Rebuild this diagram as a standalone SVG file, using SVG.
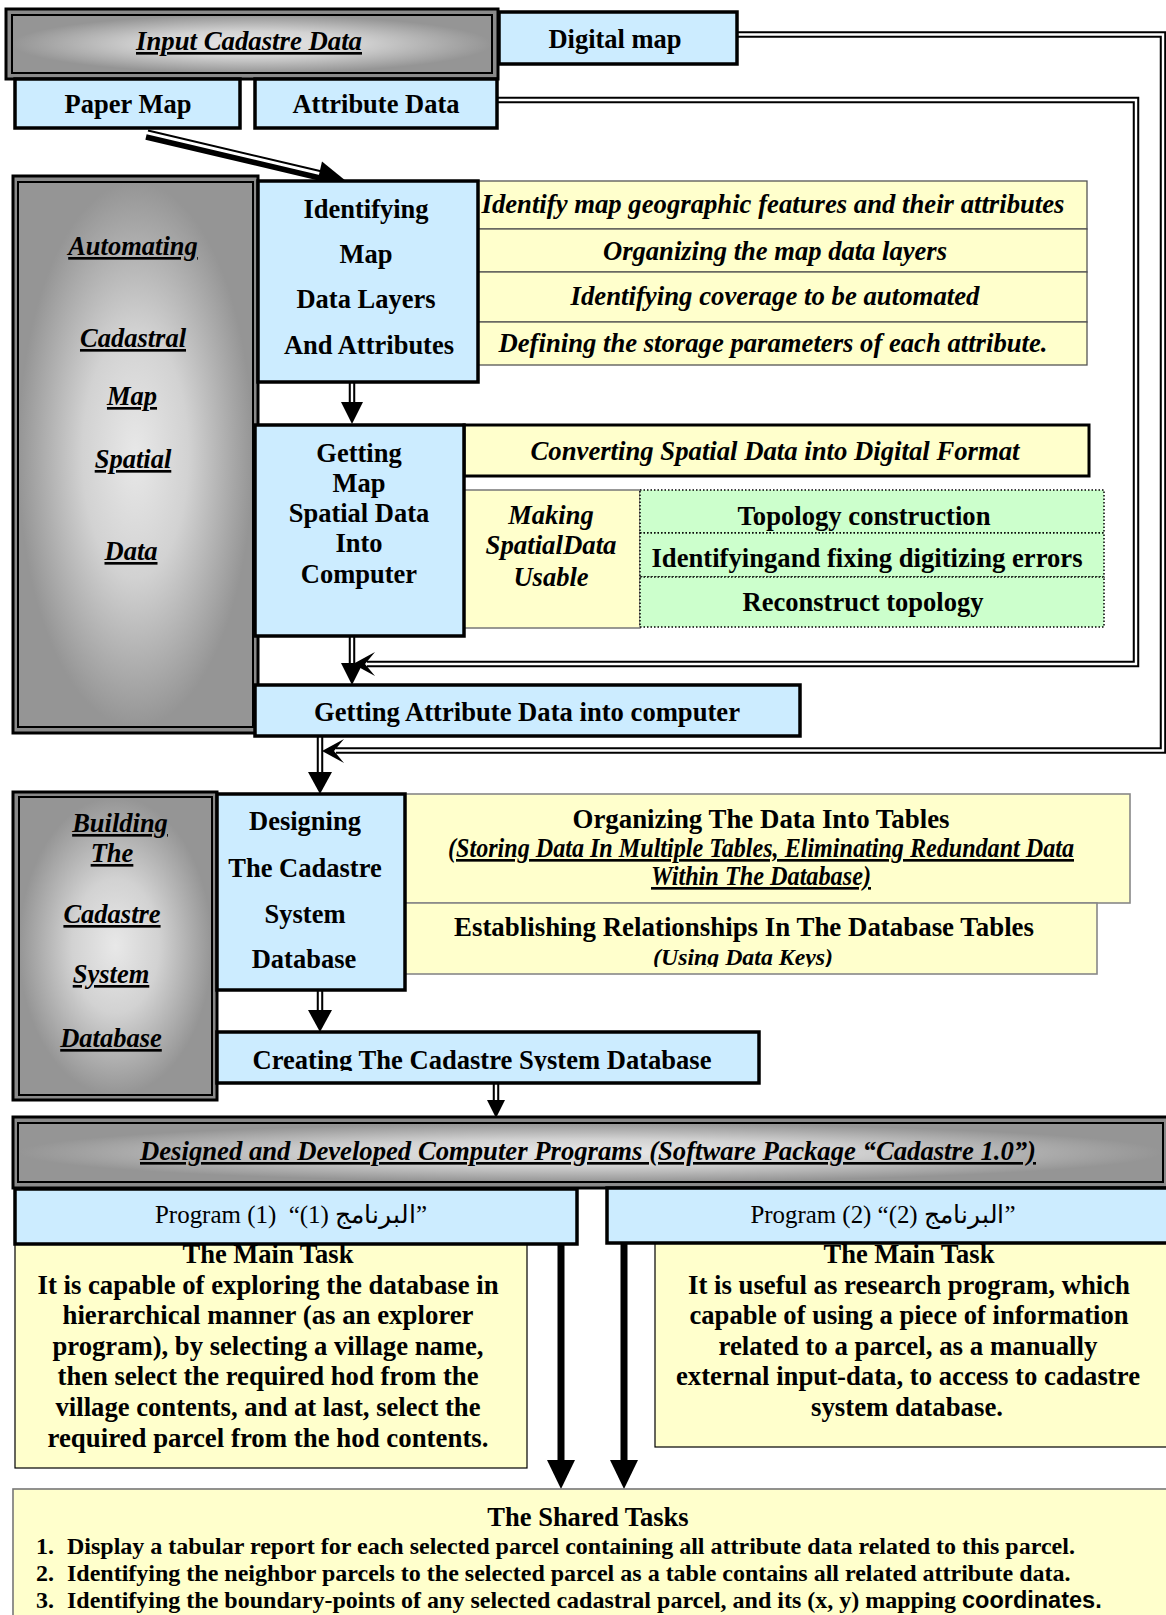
<svg xmlns="http://www.w3.org/2000/svg" width="1166" height="1615" viewBox="0 0 1166 1615">
<defs>
<radialGradient id="gray" cx="0.5" cy="0.5" r="0.5">
<stop offset="0" stop-color="#e8e8e8"/>
<stop offset="0.45" stop-color="#d2d2d2"/>
<stop offset="1" stop-color="#959595"/>
</radialGradient>
<clipPath id="clipCreate"><rect x="217" y="1032" width="542" height="39"/></clipPath>
<clipPath id="clipKeys"><rect x="404" y="903" width="693" height="64"/></clipPath>
<style>
.t{font-family:"Liberation Serif","Times New Roman",serif;font-weight:bold;font-size:26.5px;text-anchor:middle;fill:#000}
.i{font-style:italic}
.u{text-decoration:underline}
.r{font-weight:normal;font-size:25px}
.blue{fill:#CCECFF;stroke:#000;stroke-width:3.5}
.yel{fill:#FFFFCC;stroke:#555;stroke-width:1.3}
.yelg{fill:#FFFFCC;stroke:#888;stroke-width:1.6}
.yelk{fill:#FFFFCC;stroke:#000;stroke-width:1.2}
.grn{fill:#CCFFCC;stroke:#000;stroke-width:1.5;stroke-dasharray:1.5 2}
.po{fill:#8a8a8a;stroke:#000;stroke-width:3}
.pi{fill:url(#gray);stroke:#000;stroke-width:2}
.dk{fill:none;stroke:#000;stroke-width:6.5}
.dw{fill:none;stroke:#fff;stroke-width:2.4}
.ah{fill:#000;stroke:none}
.st{text-anchor:start;font-size:24px}
</style>
</defs>

<!-- Yellow detail rows -->
<g id="detail-identify">
<rect class="yel" x="478" y="181" width="609" height="48"/>
<rect class="yel" x="478" y="229" width="609" height="43"/>
<rect class="yel" x="478" y="272" width="609" height="50"/>
<rect class="yel" x="478" y="322" width="609" height="43"/>
<text class="t i" x="773" y="213" textLength="583" lengthAdjust="spacingAndGlyphs">Identify map geographic features and their attributes</text>
<text class="t i" x="775" y="260" textLength="344" lengthAdjust="spacingAndGlyphs">Organizing the map data layers</text>
<text class="t i" x="775" y="305" textLength="409" lengthAdjust="spacingAndGlyphs">Identifying coverage to be automated</text>
<text class="t i" x="773" y="352" textLength="549" lengthAdjust="spacingAndGlyphs">Defining the storage parameters of each attribute.</text>
</g>

<g id="converting">
<rect x="464" y="425" width="625" height="51" fill="#FFFFCC" stroke="#000" stroke-width="3"/>
<text class="t i" x="775" y="460" textLength="489" lengthAdjust="spacingAndGlyphs">Converting Spatial Data into Digital Format</text>
</g>

<g id="making">
<rect x="464" y="490" width="176" height="138" fill="#FFFFCC" stroke="#777" stroke-width="1.5"/>
<text class="t i" x="551" y="524">Making</text>
<text class="t i" x="551" y="554" textLength="131" lengthAdjust="spacingAndGlyphs">SpatialData</text>
<text class="t i" x="551" y="586">Usable</text>
</g>

<g id="usable-steps">
<rect class="grn" x="640" y="490" width="464" height="43"/>
<rect class="grn" x="640" y="533" width="464" height="44"/>
<rect class="grn" x="640" y="577" width="464" height="50"/>
<text class="t" x="864" y="525" textLength="253" lengthAdjust="spacingAndGlyphs">Topology construction</text>
<text class="t" x="867" y="567" textLength="431" lengthAdjust="spacingAndGlyphs">Identifyingand fixing digitizing errors</text>
<text class="t" x="863" y="611" textLength="241" lengthAdjust="spacingAndGlyphs">Reconstruct topology</text>
</g>

<g id="organizing">
<rect class="yelg" x="404" y="794" width="726" height="109"/>
<text class="t" x="761" y="828" textLength="377" lengthAdjust="spacingAndGlyphs">Organizing The Data Into Tables</text>
<text class="t i u" x="761" y="857" textLength="626" lengthAdjust="spacingAndGlyphs">(Storing Data In Multiple Tables, Eliminating Redundant Data</text>
<text class="t i u" x="761" y="885" textLength="220" lengthAdjust="spacingAndGlyphs">Within The Database)</text>
</g>

<g id="establishing">
<rect class="yelg" x="404" y="903" width="693" height="71"/>
<text class="t" x="744" y="936" textLength="580" lengthAdjust="spacingAndGlyphs">Establishing Relationships In The Database Tables</text>
<text class="t i" x="743" y="965" style="font-size:24px" textLength="180" lengthAdjust="spacingAndGlyphs" clip-path="url(#clipKeys)">(Using Data Keys)</text>
</g>

<!-- Connectors -->
<g id="connectors">
<path class="dk" d="M737,34.5 H1163 V750.5 H336"/>
<path class="dw" d="M737,34.5 H1163 V750.5 H336"/>
<path class="ah" d="M322,751 L344,739 L334,751 L344,763 Z"/>
<path class="dk" d="M497,100 H1136 V664 H367"/>
<path class="dw" d="M497,100 H1136 V664 H367"/>
<path class="ah" d="M353,664 L375,652 L365,664 L375,676 Z"/>
<line x1="146" y1="137" x2="320" y2="178" stroke="#000" stroke-width="5.5"/>
<line x1="148" y1="130.5" x2="322" y2="171.5" stroke="#000" stroke-width="2"/>
<path class="ah" d="M346,181 L316,187.5 L322,161.5 Z"/>
<path class="dk" d="M352,382 V404"/><path class="dw" d="M352,382 V404"/>
<path class="ah" d="M341,402 L363,402 L352,424 Z"/>
<path class="dk" d="M352,636 V665"/><path class="dw" d="M352,636 V665"/>
<path class="ah" d="M341,663 L363,663 L352,685 Z"/>
<path class="dk" d="M320,736 V773"/><path class="dw" d="M320,736 V773"/>
<path class="ah" d="M308,772 L332,772 L320,794 Z"/>
<path class="dk" d="M320,990 V1011"/><path class="dw" d="M320,990 V1011"/>
<path class="ah" d="M308,1010 L332,1010 L320,1032 Z"/>
<path class="dk" d="M496,1083 V1101"/><path class="dw" d="M496,1083 V1101"/>
<path class="ah" d="M487,1100 L505,1100 L496,1118 Z"/>
<line x1="561" y1="1244" x2="561" y2="1462" stroke="#000" stroke-width="7"/>
<path class="ah" d="M547,1460 L575,1460 L561,1489 Z"/>
<line x1="624" y1="1243" x2="624" y2="1462" stroke="#000" stroke-width="7"/>
<path class="ah" d="M610,1460 L638,1460 L624,1489 Z"/>
</g>

<g id="input-cadastre">
<rect class="po" x="6" y="9" width="492" height="70"/>
<rect class="pi" x="12" y="15" width="480" height="58"/>
<text class="t i u" x="249" y="50" textLength="226" lengthAdjust="spacingAndGlyphs">Input Cadastre Data</text>
</g>

<g id="digital-map">
<rect class="blue" x="499" y="12" width="238" height="52" stroke-width="3"/>
<text class="t" x="615" y="48">Di<tspan class="u">g</tspan>ital map</text>
</g>

<g id="paper-map">
<rect class="blue" x="15" y="79" width="225" height="49"/>
<text class="t" x="128" y="113">Paper Map</text>
</g>

<g id="attribute-data">
<rect class="blue" x="255" y="79" width="242" height="49"/>
<text class="t" x="376" y="113">Attribute Data</text>
</g>

<g id="automating">
<rect class="po" x="13" y="176" width="245" height="557"/>
<rect class="pi" x="18" y="182" width="235" height="545"/>
<text class="t i u" x="133" y="255">Automating</text>
<text class="t i u" x="133" y="347">Cadastral</text>
<text class="t i u" x="132" y="405">Map</text>
<text class="t i u" x="133" y="468">Spatial</text>
<text class="t i u" x="131" y="560">Data</text>
</g>

<g id="identifying">
<rect class="blue" x="258" y="181" width="220" height="201"/>
<text class="t" x="366" y="218">Identifying</text>
<text class="t" x="366" y="263">Map</text>
<text class="t" x="366" y="308">Data Layers</text>
<text class="t" x="369" y="354">And Attributes</text>
</g>

<g id="getting-map">
<rect class="blue" x="255" y="425" width="209" height="211"/>
<text class="t" x="359" y="462">Getting</text>
<text class="t" x="359" y="492">Map</text>
<text class="t" x="359" y="522">Spatial Data</text>
<text class="t" x="359" y="552">Into</text>
<text class="t" x="359" y="583">Computer</text>
</g>

<g id="getting-attribute">
<rect class="blue" x="255" y="685" width="545" height="51"/>
<text class="t" x="527" y="721" textLength="426" lengthAdjust="spacingAndGlyphs">Getting Attribute Data into computer</text>
</g>

<g id="building">
<rect class="po" x="13" y="792" width="204" height="308"/>
<rect class="pi" x="19" y="797" width="193" height="298"/>
<text class="t i u" x="120" y="832">Building</text>
<text class="t i u" x="112" y="862">The</text>
<text class="t i u" x="112" y="923">Cadastre</text>
<text class="t i u" x="111" y="983">System</text>
<text class="t i u" x="111" y="1047">Database</text>
</g>

<g id="designing">
<rect class="blue" x="217" y="794" width="188" height="196"/>
<text class="t" x="305" y="830">Designing</text>
<text class="t" x="305" y="877">The Cadastre</text>
<text class="t" x="305" y="923">System</text>
<text class="t" x="304" y="968">Database</text>
</g>

<g id="creating">
<rect class="blue" x="217" y="1032" width="542" height="51"/>
<text class="t" x="482" y="1069" textLength="459" lengthAdjust="spacingAndGlyphs" clip-path="url(#clipCreate)">Creating The Cadastre System Database</text>
</g>

<g id="programs-bar">
<rect class="po" x="13" y="1117" width="1155" height="71"/>
<rect class="pi" x="18" y="1123" width="1145" height="59"/>
<text class="t i u" x="588" y="1160" textLength="896" lengthAdjust="spacingAndGlyphs">Designed and Developed Computer Programs (Software Package “Cadastre 1.0”)</text>
</g>

<g id="main-task-1">
<rect class="yelk" x="15" y="1244" width="512" height="224"/>
<text class="t" x="268" y="1263">The Main Task</text>
<text class="t" x="268" y="1294" textLength="461" lengthAdjust="spacingAndGlyphs">It is capable of exploring the database in</text>
<text class="t" x="268" y="1324" textLength="411" lengthAdjust="spacingAndGlyphs">hierarchical manner (as an explorer</text>
<text class="t" x="268" y="1355" textLength="431" lengthAdjust="spacingAndGlyphs">program), by selecting a village name,</text>
<text class="t" x="268" y="1385" textLength="421" lengthAdjust="spacingAndGlyphs">then select the required hod from the</text>
<text class="t" x="268" y="1416" textLength="425" lengthAdjust="spacingAndGlyphs">village contents, and at last, select the</text>
<text class="t" x="268" y="1447" textLength="441" lengthAdjust="spacingAndGlyphs">required parcel from the hod contents.</text>
</g>

<g id="main-task-2">
<rect class="yelk" x="655" y="1243" width="515" height="204"/>
<text class="t" x="909" y="1263">The Main Task</text>
<text class="t" x="909" y="1294" textLength="442" lengthAdjust="spacingAndGlyphs">It is useful as research program, which</text>
<text class="t" x="909" y="1324" textLength="439" lengthAdjust="spacingAndGlyphs">capable of using a piece of information</text>
<text class="t" x="908" y="1355" textLength="379" lengthAdjust="spacingAndGlyphs">related to a parcel, as a manually</text>
<text class="t" x="908" y="1385" textLength="464" lengthAdjust="spacingAndGlyphs">external input-data, to access to cadastre</text>
<text class="t" x="907" y="1416" textLength="192" lengthAdjust="spacingAndGlyphs">system database.</text>
</g>

<g id="program-1">
<rect class="blue" x="15" y="1189" width="562" height="55"/>
<text class="t r" x="291" y="1223" textLength="272" lengthAdjust="spacingAndGlyphs">Program (1)&#160; “(1) البرنامج”</text>
</g>

<g id="program-2">
<rect class="blue" x="607" y="1188" width="565" height="55"/>
<text class="t r" x="883" y="1223" textLength="265" lengthAdjust="spacingAndGlyphs">Program (2) “(2) البرنامج”</text>
</g>

<g id="shared-tasks">
<rect x="13" y="1489" width="1160" height="140" fill="#FFFFCC" stroke="#777" stroke-width="1.6"/>
<text class="t" x="588" y="1526">The Shared Tasks</text>
<text class="t st" x="36" y="1554">1.</text>
<text class="t st" x="67" y="1554">Display a tabular report for each selected parcel containing all attribute data related to this parcel.</text>
<text class="t st" x="36" y="1581">2.</text>
<text class="t st" x="67" y="1581">Identifying the neighbor parcels to the selected parcel as a table contains all related attribute data.</text>
<text class="t st" x="36" y="1608">3.</text>
<text class="t st" x="67" y="1608">Identifying the boundary-points of any selected cadastral parcel, and its (x, y) mapping <tspan style="font-family:'Liberation Sans',Arial,sans-serif;font-size:23.5px">coordinates.</tspan></text>
</g>
</svg>
